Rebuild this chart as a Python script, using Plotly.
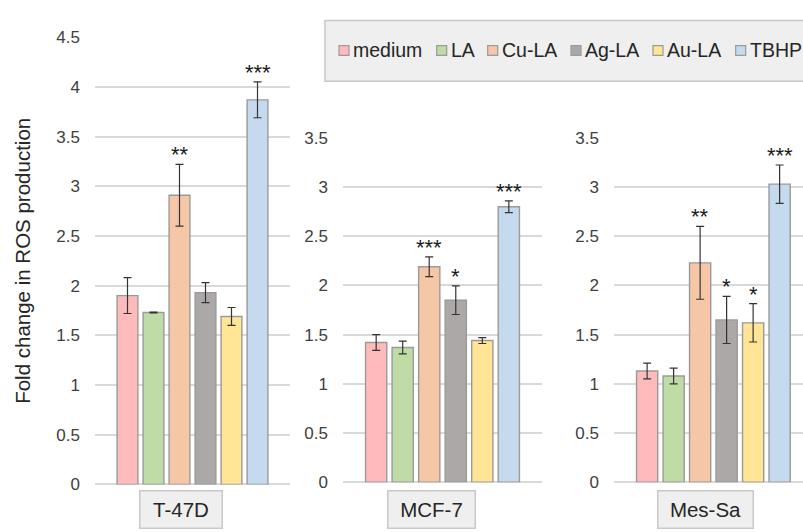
import plotly.graph_objects as go

# ---------------- data ----------------
treatments = ["medium", "LA", "Cu-LA", "Ag-LA", "Au-LA", "TBHP"]
colors = ["#FFBABB", "#BFDCA7", "#F5C7A6", "#ACA8A7", "#FFE595", "#C5DAEE"]
cell_lines = ["T-47D", "MCF-7", "Mes-Sa"]

t47d_mean = [1.90, 1.73, 2.91, 1.93, 1.69, 3.87]
t47d_err = [0.18, 0.005, 0.31, 0.10, 0.09, 0.18]
t47d_sig = ["", "", "**", "", "", "***"]

mcf7_mean = [1.42, 1.37, 2.19, 1.85, 1.44, 2.80]
mcf7_err = [0.08, 0.065, 0.10, 0.145, 0.03, 0.06]
mcf7_sig = ["", "", "***", "*", "", "***"]

messa_mean = [1.13, 1.08, 2.23, 1.65, 1.62, 3.03]
messa_err = [0.08, 0.08, 0.37, 0.24, 0.195, 0.195]
messa_sig = ["", "", "**", "*", "*", "***"]

y_ticks_left = [0, 0.5, 1, 1.5, 2, 2.5, 3, 3.5, 4, 4.5]
y_ticks_other = [0, 0.5, 1, 1.5, 2, 2.5, 3, 3.5]

# ---------------- layout constants ----------------
W, H = 803, 532
FONT = "Liberation Sans, Arial, sans-serif"
TXT = "#262626"
GRID = "#D9D9D9"


def px_x(p):
    return p / W


def px_y(p):
    return 1 - p / H


panels = [
    dict(mean=t47d_mean, err=t47d_err, sig=t47d_sig, name=cell_lines[0],
         xdom=(95, 290), ydom=(493, 29.3), yrange=[0, 4.5], xr=[-1.25, 6.25],
         ticks=y_ticks_left, label_box=(138.7, 222.7)),
    dict(mean=mcf7_mean, err=mcf7_err, sig=mcf7_sig, name=cell_lines[1],
         xdom=(343, 542), ydom=(490.7, 133.7), yrange=[0, 3.5], xr=[-1.25, 6.25],
         ticks=y_ticks_other, label_box=(386.7, 475.7)),
    dict(mean=messa_mean, err=messa_err, sig=messa_sig, name=cell_lines[2],
         xdom=(614, 803), ydom=(490.7, 133.7), yrange=[0, 3.5], xr=[-1.25, -1.25 + 189 / 26.5],
         ticks=y_ticks_other, label_box=(657.3, 754.3)),
]

fig = go.Figure()
annotations = []
shapes = []
layout_axes = {}

for k, p in enumerate(panels):
    sfx = "" if k == 0 else str(k + 1)
    xa, ya = "x" + sfx, "y" + sfx
    fig.add_trace(go.Bar(
        x=list(range(len(treatments))),
        y=p["mean"],
        width=0.8,
        marker=dict(color=colors, line=dict(color="#9A9A9A", width=1.4)),
        error_y=dict(type="data", array=p["err"], visible=True,
                     color="#333333", thickness=1.2, width=4),
        customdata=treatments,
        hovertemplate="%{customdata}: %{y}<extra>" + p["name"] + "</extra>",
        showlegend=False,
        xaxis=xa, yaxis=ya,
    ))
    layout_axes["xaxis" + sfx] = dict(
        domain=[px_x(p["xdom"][0]), px_x(p["xdom"][1])],
        range=p["xr"], anchor=ya,
        showticklabels=False, showgrid=False, zeroline=False, showline=False,
        ticks="", fixedrange=True,
    )
    ydict = dict(
        domain=[px_y(p["ydom"][0]), px_y(p["ydom"][1])],
        range=p["yrange"], anchor=xa,
        tickmode="array", tickvals=p["ticks"],
        ticktext=[("%g" % v) for v in p["ticks"]],
        showgrid=True, gridcolor=GRID, gridwidth=1.5,
        zeroline=True, zerolinecolor=GRID, zerolinewidth=1.5,
        showline=False, ticks="",
        ticklabelstandoff=14,
        tickfont=dict(family=FONT, size=17, color="#404040"),
        fixedrange=True,
    )
    if k == 0:
        ydict["title"] = dict(text="Fold change in ROS production",
                              font=dict(family=FONT, size=20.5, color=TXT),
                              standoff=20)
    layout_axes["yaxis" + sfx] = ydict

    # significance stars
    for i, s in enumerate(p["sig"]):
        if s:
            annotations.append(dict(
                x=i, y=p["mean"][i] + p["err"][i], xref=xa, yref=ya,
                text=s, showarrow=False, yanchor="bottom", xanchor="center",
                yshift=-5,
                font=dict(family=FONT, size=22, color="#1a1a1a"),
            ))

    # category label box
    x0, x1 = p["label_box"]
    annotations.append(dict(
        x=px_x((x0 + x1) / 2), y=px_y(499), xref="paper", yref="paper",
        xanchor="center", yanchor="top",
        text=p["name"], showarrow=False,
        width=(x1 - x0) - 5, height=34, borderpad=1,
        bgcolor="#EFEFEF", bordercolor="#C8C8C8", borderwidth=1.5,
        valign="middle", align="center",
        font=dict(family=FONT, size=20.5, color=TXT),
    ))

# ---------------- manual legend ----------------
LEG_BOX = (325, 12, 812, 75)
shapes.append(dict(type="rect", xref="paper", yref="paper",
                   x0=px_x(LEG_BOX[0]), x1=px_x(LEG_BOX[2]),
                   y0=px_y(LEG_BOX[3]), y1=px_y(LEG_BOX[1]),
                   fillcolor="#EFEFEF", line=dict(color="#C8C8C8", width=1.5),
                   layer="below"))
legend_swatch_x = [339, 436.7, 487.7, 571, 653, 735.7]
for name, col, sx in zip(treatments, colors, legend_swatch_x):
    shapes.append(dict(type="rect", xref="paper", yref="paper",
                       x0=px_x(sx), x1=px_x(sx + 10),
                       y0=px_y(48), y1=px_y(38),
                       fillcolor=col, line=dict(color="#9A9A9A", width=1.2)))
    annotations.append(dict(
        x=px_x(sx + 12), y=px_y(43), xref="paper", yref="paper",
        xanchor="left", yanchor="middle", text=name, showarrow=False,
        font=dict(family=FONT, size=19.5, color=TXT),
    ))

fig.update_layout(
    width=W, height=H,
    margin=dict(l=0, r=0, t=0, b=0),
    paper_bgcolor="white", plot_bgcolor="white",
    barmode="overlay",
    annotations=annotations,
    shapes=shapes,
    showlegend=False,
    **layout_axes,
)

fig.write_html("out.html")
